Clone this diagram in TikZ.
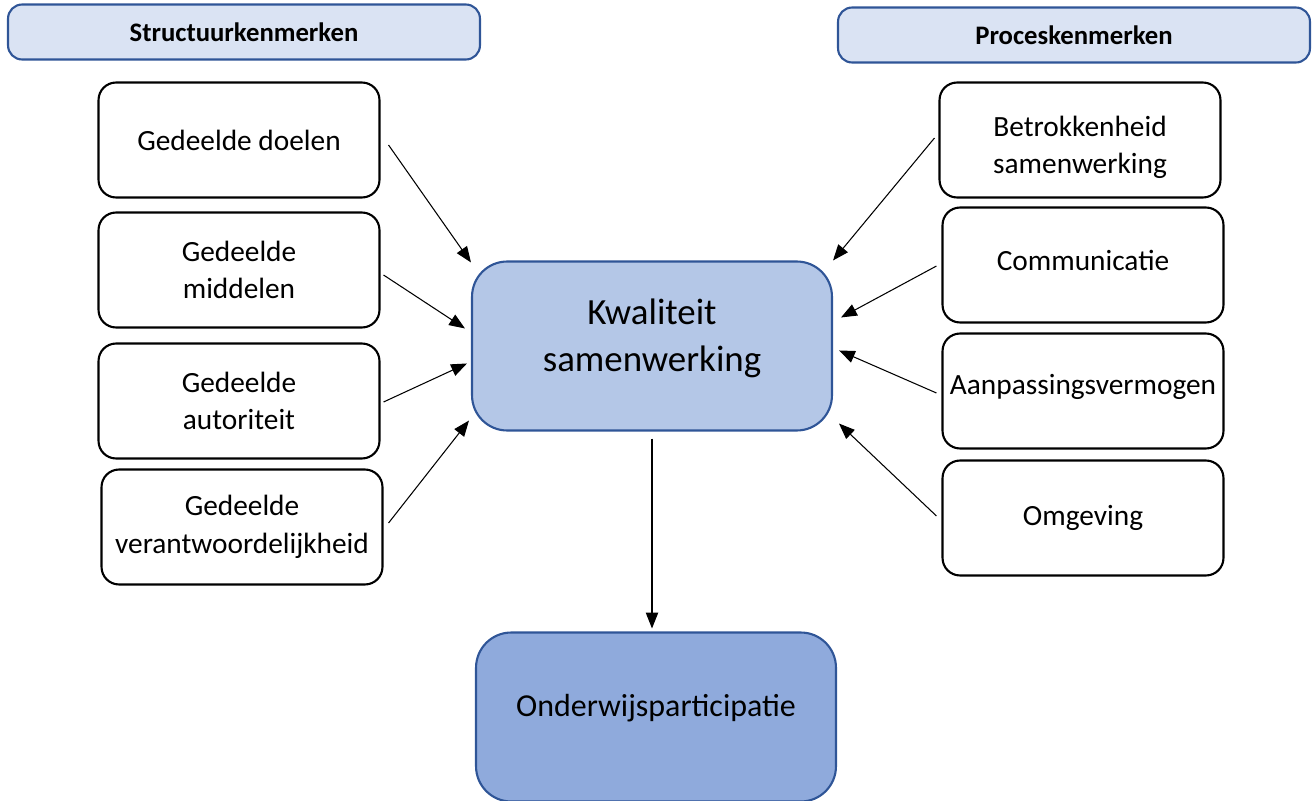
\documentclass[tikz,border=0pt]{standalone}
\usepackage{fontspec}
\setmainfont{Carlito}
\usepackage{tikz}
\usetikzlibrary{arrows.meta}
\definecolor{headfill}{HTML}{DAE3F3}
\definecolor{mainfill}{HTML}{B4C7E7}
\definecolor{endfill}{HTML}{8FAADC}
\definecolor{boxline}{HTML}{2F5597}
\newcommand{\lift}[2]{\raisebox{#1}[\height][\depth]{\begin{tabular}{@{}c@{}}#2\end{tabular}}}

\begin{document}
\begin{tikzpicture}[x=0.02cm, y=-0.02cm,
  headbox/.style={draw=boxline, fill=headfill, line width=1.2pt, rounded corners=8pt,
    minimum width=9.44cm, minimum height=1.1cm, inner sep=0pt, font=\bfseries\fontsize{15.2}{18}\selectfont},
  factor/.style={draw, line width=1.2pt, rounded corners=10pt, minimum width=5.62cm,
    minimum height=2.3cm, inner sep=2pt, align=center, font=\fontsize{16.7}{21.5}\selectfont},
  mainbox/.style={draw=boxline, line width=1.2pt, rounded corners=20pt, minimum width=7.2cm,
    inner sep=0pt, align=center},
  arr/.style={-{Triangle[length=9pt, width=7pt]}, line width=0.6pt}]
\useasboundingbox (0,0) rectangle (1316,801);

% headers
\node[headbox] (struct) at (244,32) {Structuurkenmerken};
\node[headbox] (proces) at (1074,35) {Proceskenmerken};

% structure characteristics
\node[factor] (doelen) at (239,140) {Gedeelde doelen};
\node[factor] (middelen) at (239,270) {Gedeelde\\middelen};
\node[factor] (autoriteit) at (239,401) {Gedeelde\\autoriteit};
\node[factor] (verantw) at (242,527) {Gedeelde\\verantwoordelijkheid};

% process characteristics
\node[factor] (betrokken) at (1080,140) {\lift{-4.3pt}{Betrokkenheid\\samenwerking}};
\node[factor] (communicatie) at (1083,265) {\lift{1pt}{Communicatie}};
\node[factor] (aanpassing) at (1083,391) {\lift{2.3pt}{Aanpassingsvermogen}};
\node[factor] (omgeving) at (1083,518) {Omgeving};

% quality and outcome
\node[mainbox, fill=mainfill, minimum height=3.38cm, font=\fontsize{21}{27}\selectfont]
  (kwaliteit) at (652,346) {\lift{4.3pt}{Kwaliteit\\samenwerking}};
\node[mainbox, fill=endfill, minimum height=3.38cm, font=\fontsize{18.2}{22}\selectfont]
  (onderwijs) at (656,717) {\lift{4.6pt}{Onderwijsparticipatie}};

% arrows into quality
\draw[arr] ([shift={(8,5)}]doelen.east) -- ([shift={(0,2)}]kwaliteit.north west);
\draw[arr] ([shift={(3,5)}]middelen.east) -- ([shift={(-6,68)}]kwaliteit.north west);
\draw[arr] ([shift={(3,1)}]autoriteit.east) -- ([shift={(-4,103)}]kwaliteit.north west);
\draw[arr] ([shift={(5,-4)}]verantw.east) -- ([shift={(-2,-11)}]kwaliteit.south west);
\draw[arr] ([shift={(-4,-2)}]betrokken.west) -- ([shift={(0,0)}]kwaliteit.north east);
\draw[arr] ([shift={(-5,1)}]communicatie.west) -- ([shift={(8,57)}]kwaliteit.north east);
\draw[arr] ([shift={(-5,2)}]aanpassing.west) -- ([shift={(6,90)}]kwaliteit.north east);
\draw[arr] ([shift={(-5,-2)}]omgeving.west) -- ([shift={(6,-8)}]kwaliteit.south east);

% outcome
\draw[arr] ([shift={(0,7)}]kwaliteit.south) -- ([shift={(-4,-3)}]onderwijs.north);
\end{tikzpicture}
\end{document}
